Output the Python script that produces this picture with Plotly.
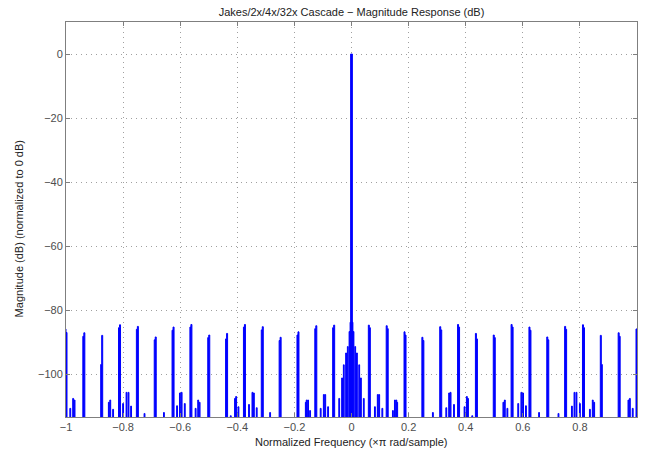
import plotly.graph_objects as go

# ---- data ----
# tall spikes at multiples of 1/16 (positive side; mirrored for negative side)
tall_freq = [0.0625, 0.125, 0.1875, 0.25, 0.3125, 0.375, 0.4375, 0.5,
             0.5625, 0.625, 0.6875, 0.75, 0.8125, 0.875, 0.9375, 1.0]
tall_db = [-84.7, -84.9, -86.8, -88.5, -85.2, -84.5, -87.3, -87.8,
           -84.5, -85.3, -88.4, -85.1, -84.6, -87.9, -87.1, -85.9]
tall_shoulder_db = [-85.5, -85.8, -87.8, -89.5, -86.2, -85.3, -89.0, -88.6,
                    -85.3, -86.3, -89.3, -86.0, -85.5, -97.0, -88.2, -87.0]

# small sidelobe spikes (positive side; mirrored)
small_freq = [0.082, 0.092, 0.097, 0.108, 0.145, 0.152, 0.157, 0.160,
              0.285, 0.332, 0.342, 0.347, 0.359, 0.396, 0.404, 0.408, 0.423,
              0.532, 0.537, 0.546, 0.584, 0.595, 0.601, 0.611, 0.657, 0.725,
              0.772, 0.781, 0.788, 0.800, 0.835, 0.845, 0.850, 0.970, 0.975, 0.985]
small_db = [-110.2, -106.4, -106.4, -110.7, -111.4, -108.1, -108.1, -108.8,
            -112.0, -110.5, -105.9, -105.7, -109.5, -110.2, -107.0, -107.6, -113.0,
            -108.8, -108.1, -110.7, -109.2, -105.7, -105.9, -109.9, -112.0, -112.3,
            -110.0, -105.7, -105.7, -109.2, -111.0, -108.1, -108.8, -108.1, -107.6, -110.7]

# central lobe skirt (positive side; mirrored)
center_freq = [0.0035, 0.007, 0.013, 0.019, 0.027, 0.033, 0.043]
center_db = [-83.8, -86.7, -91.4, -93.4, -97.1, -101.2, -107.6]

main_lobe_db = 0.0

x_ticks = [-1, -0.8, -0.6, -0.4, -0.2, 0, 0.2, 0.4, 0.6, 0.8]
y_ticks = [-100, -80, -60, -40, -20, 0]

# ---- build the response shapes ----
FLOOR = -140.0
spikes = []  # (f, h_left, h_right, halfwidth)
for f, h, s in zip(tall_freq, tall_db, tall_shoulder_db):
    spikes.append((f, h, s, 0.0035))
    if f < 1.0:
        spikes.append((-f, s, h, 0.0035))
    else:
        spikes.append((-f, h, s, 0.0035))
for f, h in zip(small_freq, small_db):
    spikes.append((f, h, h, 0.0015))
    spikes.append((-f, h, h, 0.0015))
for f, h in zip(center_freq, center_db):
    spikes.append((f, h, h, 0.0014))
    spikes.append((-f, h, h, 0.0014))
spikes.append((0.0, main_lobe_db, main_lobe_db, 0.003))
spikes.sort(key=lambda t: t[0])

fig = go.Figure()
for f, hl, hr, w in spikes:
    xs = [f - w, f - w, f, f, f + w, f + w, f - w]
    ys = [FLOOR, hl, hl, hr, hr, FLOOR, FLOOR]
    fig.add_trace(go.Scatter(x=xs, y=ys, mode="lines", fill="toself",
                             fillcolor="#0000FF",
                             line=dict(color="#0000FF", width=1),
                             hoverinfo="skip", showlegend=False))

axis_common = dict(
    showline=True, linecolor="#7f7f7f", linewidth=1, mirror="ticks",
    ticks="inside", ticklen=4, tickcolor="#7f7f7f",
    showgrid=True, gridcolor="#a0a0a0", griddash="1px,4px", gridwidth=1,
    zeroline=False, tickfont=dict(size=11, color="#4d4d4d"),
)

fig.update_layout(
    width=647, height=455,
    margin=dict(l=66, r=10, t=22, b=38),
    paper_bgcolor="white", plot_bgcolor="white",
    font=dict(family="Liberation Sans, Arial, Helvetica, sans-serif", size=11, color="#222"),
    title=dict(text="Jakes/2x/4x/32x Cascade − Magnitude Response (dB)",
               x=(66 + 637) / 2 / 647, xanchor="center",
               y=1 - 12 / 455, yanchor="middle", yref="container",
               font=dict(size=11, color="#222")),
    xaxis=dict(range=[-1, 1.0], tickvals=x_ticks, **axis_common),
    yaxis=dict(range=[-113.4, 10], tickvals=y_ticks, **axis_common),
    annotations=[
        dict(text="Normalized Frequency (×π rad/sample)", xref="paper", yref="paper",
             x=0.5, y=-25 / 395, xanchor="center", yanchor="middle",
             showarrow=False, font=dict(size=11, color="#222")),
        dict(text="Magnitude (dB) (normalized to 0 dB)", xref="paper", yref="paper",
             x=(19 - 66) / 571, y=0.475, xanchor="center", yanchor="middle",
             textangle=-90, showarrow=False, font=dict(size=11, color="#222")),
    ],
)

fig.write_html("out.html")
